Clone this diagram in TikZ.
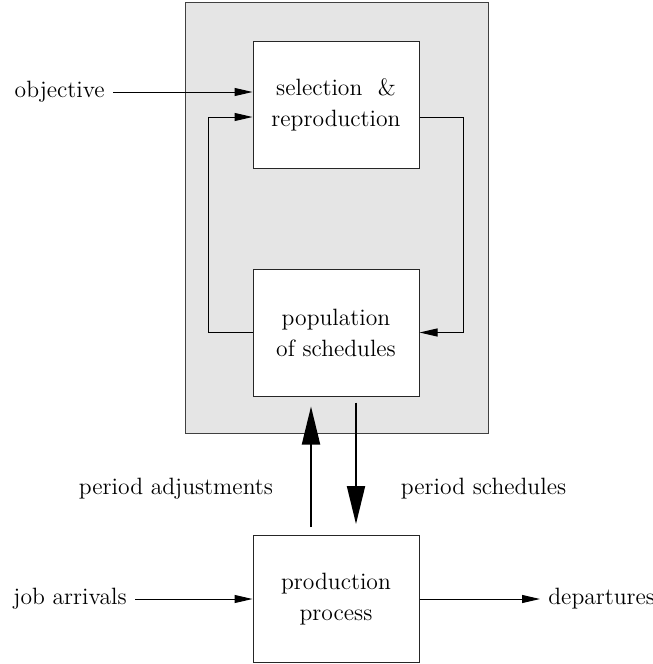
\documentclass[tikz,border=0pt]{standalone}
\usetikzlibrary{arrows.meta, positioning}

\begin{document}
\begin{tikzpicture}[
    x=0.5pt, y=-0.5pt,
    block/.style={rectangle, draw=black!85, fill=white, minimum width=83pt, minimum height=63.5pt, align=center, inner sep=0pt, line width=0.5pt, font=\fontsize{11.8}{15.5}\selectfont},
    gabox/.style={rectangle, draw=black!75, fill=black!10, minimum width=151.5pt, minimum height=215.5pt, line width=0.5pt},
    lbl/.style={inner ysep=0pt, inner xsep=4pt, font=\fontsize{11.8}{15.5}\selectfont},
    arrow/.style={-{Triangle[length=9pt, width=4pt]}, line width=0.5pt, black},
    bigarrow/.style={-{Triangle[length=19pt, width=9pt]}, line width=1pt, black},
]
\useasboundingbox (0,0) rectangle (653,664);

% GA frame
\node[gabox] (ga) at (336.5, 217.5) {};

% Blocks
\node[block] (sel) at (336, 104.5) {selection \ \&\\reproduction};
\node[block] (pop) at (336, 332.5) {population\\of schedules};
\node[block] (prod) at (336, 599) {production\\process};

% Loop inside the GA
\draw[arrow] (pop.west) -- ++(-44,0) |- ([yshift=-6.25pt]sel.west);
\draw[arrow] ([yshift=-6.25pt]sel.east) -- ++(44,0) |- (pop.east);

% Inputs and outputs
\node[lbl, anchor=east] (obj) at (113, 92) {objective};
\draw[arrow] (obj.east) -- (obj.east -| sel.west);
\node[lbl, anchor=east] (job) at (135, 599) {job arrivals};
\draw[arrow] (job.east) -- (prod.west);
\node[lbl, anchor=west] (dep) at (540, 599) {departures};
\draw[arrow] (prod.east) -- (dep.west);

% Exchange with the process
\draw[bigarrow, shorten <=4pt, shorten >=5pt] ([xshift=-12.5pt]prod.north) -- ([xshift=-12.5pt]pop.south);
\draw[bigarrow, shorten <=3pt, shorten >=5.5pt] ([xshift=10pt]pop.south) -- ([xshift=10pt]prod.north);
\node[lbl] (adj) at (176, 489) {period adjustments};
\node[lbl] (per) at (483.5, 489) {period schedules};

\end{tikzpicture}
\end{document}
